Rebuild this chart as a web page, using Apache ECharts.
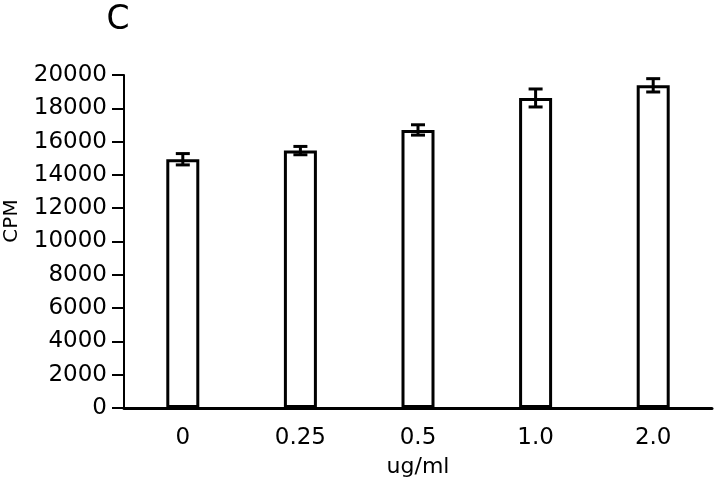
<!DOCTYPE html>
<html>
<head>
<meta charset="utf-8">
<script src="https://cdn.jsdelivr.net/npm/echarts@6/dist/echarts.min.js"></script>
<style>html,body{margin:0;padding:0;background:#fff}#c{width:720px;height:485px}</style>
</head>
<body>
<div id="c"></div>
<script>
var categories = ['0', '0.25', '0.5', '1.0', '2.0'];
var cpmValues = [14940, 15460, 16700, 18620, 19380];
var cpmErrors = [340, 250, 310, 540, 400];
var yTicks = [0, 2000, 4000, 6000, 8000, 10000, 12000, 14000, 16000, 18000, 20000];

var errData = categories.map(function (c, i) {
  return [i, cpmValues[i] - cpmErrors[i], cpmValues[i] + cpmErrors[i]];
});

var chart = echarts.init(document.getElementById('c'), null, {renderer: 'canvas'});
var font = '"DejaVu Sans", "Noto Sans", sans-serif';
chart.setOption({
  animation: false,
  backgroundColor: '#fff',
  textStyle: {fontFamily: font, color: '#000'},
  grid: {left: 124, right: 8, top: 75, bottom: 77, containLabel: false, outerBoundsMode: 'none'},
  xAxis: {
    type: 'category',
    data: categories,
    name: 'ug/ml',
    nameLocation: 'middle',
    nameGap: 48,
    nameTextStyle: {color: '#000', fontSize: 22, fontFamily: font},
    axisLine: {lineStyle: {color: '#000', width: 3}},
    axisTick: {show: false},
    axisLabel: {color: '#000', fontSize: 23, fontFamily: font, margin: 19}
  },
  yAxis: {
    type: 'value',
    min: yTicks[0],
    max: yTicks[yTicks.length - 1],
    interval: 2000,
    splitLine: {show: false},
    axisLine: {show: true, lineStyle: {color: '#000', width: 2}},
    axisTick: {show: true, length: 12, lineStyle: {color: '#000', width: 2}},
    axisLabel: {color: '#000', fontSize: 23, fontFamily: font, margin: 17,
      formatter: function (v) { return String(v); }}
  },
  graphic: [
    {type: 'text', x: 118, y: 20, style: {text: 'C', font: '33px ' + font, fill: '#000', align: 'center', verticalAlign: 'middle'}},
    {type: 'text', x: 12, y: 221, rotation: Math.PI / 2, style: {text: 'CPM', font: '20px ' + font, fill: '#000', align: 'center', verticalAlign: 'middle'}}
  ],
  series: [
    {
      type: 'bar',
      data: cpmValues,
      barWidth: 33,
      itemStyle: {color: '#fff', borderColor: '#000', borderWidth: 3}
    },
    {
      type: 'custom',
      data: errData,
      z: 10,
      renderItem: function (params, api) {
        var x = api.value(0);
        var lo = api.coord([x, api.value(1)]);
        var hi = api.coord([x, api.value(2)]);
        var hw = 7;
        var st = {stroke: '#000', lineWidth: 3, fill: null};
        return {
          type: 'group',
          children: [
            {type: 'line', shape: {x1: lo[0], y1: lo[1], x2: hi[0], y2: hi[1]}, style: st},
            {type: 'line', shape: {x1: lo[0] - hw, y1: lo[1], x2: lo[0] + hw, y2: lo[1]}, style: st},
            {type: 'line', shape: {x1: hi[0] - hw, y1: hi[1], x2: hi[0] + hw, y2: hi[1]}, style: st}
          ]
        };
      }
    }
  ]
});
</script>
</body>
</html>
